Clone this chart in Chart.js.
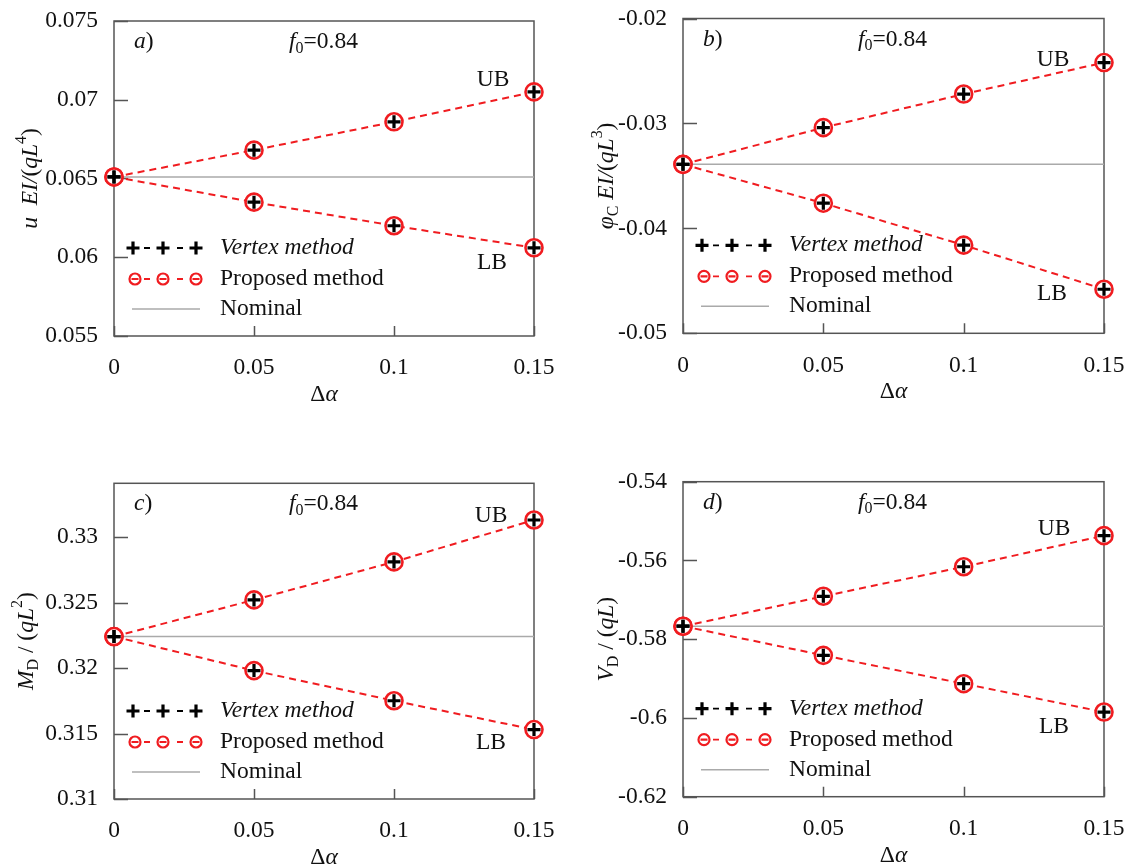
<!DOCTYPE html>
<html>
<head>
<meta charset="utf-8">
<script src="https://cdn.jsdelivr.net/npm/chart.js@4"></script>
<style>
  body { margin: 0; background: #fff; }
  #wrap { position: relative; width: 1127px; height: 867px; }
  canvas { position: absolute; }
</style>
</head>
<body>
<div id="wrap">
  <canvas id="pa" width="563" height="430" style="left:0;top:0"></canvas>
  <canvas id="pb" width="564" height="430" style="left:563px;top:0"></canvas>
  <canvas id="pc" width="563" height="437" style="left:0;top:430px"></canvas>
  <canvas id="pd" width="564" height="437" style="left:563px;top:430px"></canvas>
</div>
<script>
// x values (Δα) shared by all panels
const alphaVals = [0, 0.05, 0.1, 0.15];
const alphaTickLabels = ['0', '0.05', '0.1', '0.15'];

// a) displacement u EI/(qL^4)
const uUpper = [0.0651, 0.0668, 0.0686, 0.0705];
const uLower = [0.0651, 0.0635, 0.0620, 0.0606];
const uNominal = 0.0651;
const uTicks = [0.055, 0.06, 0.065, 0.07, 0.075];
const uTickLabels = ['0.055', '0.06', '0.065', '0.07', '0.075'];

// b) rotation phi_C EI/(qL^3)
const phiUpper = [-0.0339, -0.0304, -0.0272, -0.0242];
const phiLower = [-0.0339, -0.0376, -0.0416, -0.0458];
const phiNominal = -0.0339;
const phiTicks = [-0.05, -0.04, -0.03, -0.02];
const phiTickLabels = ['-0.05', '-0.04', '-0.03', '-0.02'];

// c) moment M_D/(qL^2)
const mUpper = [0.3224, 0.3252, 0.3281, 0.3313];
const mLower = [0.3224, 0.3198, 0.3175, 0.3153];
const mNominal = 0.3224;
const mTicks = [0.31, 0.315, 0.32, 0.325, 0.33];
const mTickLabels = ['0.31', '0.315', '0.32', '0.325', '0.33'];

// d) shear V_D/(qL)
const vUpper = [-0.5767, -0.5691, -0.5616, -0.5537];
const vLower = [-0.5767, -0.5841, -0.5913, -0.5985];
const vNominal = -0.5767;
const vTicks = [-0.62, -0.6, -0.58, -0.56, -0.54];
const vTickLabels = ['-0.62', '-0.6', '-0.58', '-0.56', '-0.54'];

const FONT = "'Liberation Serif', 'Times New Roman', serif";
const RED = 'rgb(240,28,32)';
const FS = 23.5;

// draw text made of styled pieces (italic / subscript / superscript)
function richWidth(ctx, segs, size) {
  let w = 0;
  segs.forEach(s => {
    const fs = (s.sub || s.sup) ? size * 0.68 : size;
    ctx.font = (s.i ? 'italic ' : '') + fs + 'px ' + FONT;
    w += ctx.measureText(s.t).width;
  });
  return w;
}
function drawRich(ctx, segs, x, y, size, align) {
  let cx = x;
  const w = richWidth(ctx, segs, size);
  if (align === 'center') cx = x - w / 2;
  if (align === 'right') cx = x - w;
  ctx.textBaseline = 'middle';
  ctx.textAlign = 'left';
  segs.forEach(s => {
    const fs = (s.sub || s.sup) ? size * 0.68 : size;
    ctx.font = (s.i ? 'italic ' : '') + fs + 'px ' + FONT;
    let dy = 0;
    if (s.sub) dy = size * 0.28;
    if (s.sup) dy = -size * 0.38;
    ctx.fillText(s.t, cx, y + dy);
    cx += ctx.measureText(s.t).width;
  });
}

const panelDecor = {
  id: 'panelDecor',
  beforeDatasetsDraw(chart, args, opts) {
    const ctx = chart.ctx;
    const a = chart.chartArea;
    const xs = chart.scales.x, ys = chart.scales.y;
    ctx.save();
    ctx.strokeStyle = '#555';
    ctx.lineWidth = 1.5;
    ctx.strokeRect(a.left, a.top, a.right - a.left, a.bottom - a.top);
    ctx.beginPath();
    ys.ticks.forEach(t => {
      const py = Math.round(ys.getPixelForValue(t.value)) + 0.5;
      ctx.moveTo(a.left, py); ctx.lineTo(a.left + 14, py);
    });
    xs.ticks.forEach(t => {
      const px = Math.round(xs.getPixelForValue(t.value)) + 0.5;
      ctx.moveTo(px, a.bottom); ctx.lineTo(px, a.bottom - 10);
    });
    ctx.stroke();
    ctx.restore();
  },
  afterDraw(chart, args, opts) {
    const ctx = chart.ctx;
    const a = chart.chartArea;
    ctx.save();
    ctx.fillStyle = '#111';
    // panel tag and f0
    drawRich(ctx, [{t: opts.tag, i: true}, {t: ')'}], a.left + 20, a.top + 21, FS, 'left');
    drawRich(ctx, [{t: 'f', i: true}, {t: '0', sub: true}, {t: '=0.84'}], a.left + 175, a.top + 21, FS, 'left');
    // UB / LB
    drawRich(ctx, [{t: 'UB'}], a.right - opts.ub[0], a.top + opts.ub[1], FS, 'center');
    drawRich(ctx, [{t: 'LB'}], a.right - opts.lb[0], a.top + opts.lb[1], FS, 'center');
    // x title
    drawRich(ctx, [{t: 'Δ'}, {t: 'α', i: true}], (a.left + a.right) / 2, a.bottom + 59, FS, 'center');
    // y title
    ctx.save();
    ctx.translate(opts.ytx, (a.top + a.bottom) / 2);
    ctx.rotate(-Math.PI / 2);
    drawRich(ctx, opts.ytitle, 0, 0, FS, 'center');
    ctx.restore();

    // legend inside the plot
    const lx = a.left + 19;
    const r1 = a.bottom - 88, r2 = a.bottom - 57, r3 = a.bottom - 27;
    ctx.lineWidth = 1.8;
    // vertex row
    ctx.strokeStyle = '#000';
    ctx.beginPath();
    ctx.moveTo(lx + 11, r1); ctx.lineTo(lx + 17, r1);
    ctx.moveTo(lx + 44, r1); ctx.lineTo(lx + 50, r1);
    ctx.stroke();
    ctx.lineWidth = 3.2;
    [lx, lx + 30, lx + 63].forEach(px => {
      ctx.beginPath();
      ctx.moveTo(px - 6.5, r1); ctx.lineTo(px + 6.5, r1);
      ctx.moveTo(px, r1 - 6.5); ctx.lineTo(px, r1 + 6.5);
      ctx.stroke();
    });
    // proposed row
    ctx.strokeStyle = RED;
    ctx.lineWidth = 1.8;
    ctx.beginPath();
    ctx.moveTo(lx + 11, r2); ctx.lineTo(lx + 17, r2);
    ctx.moveTo(lx + 44, r2); ctx.lineTo(lx + 50, r2);
    ctx.stroke();
    ctx.lineWidth = 2.2;
    [lx + 2, lx + 30, lx + 63].forEach(px => {
      ctx.beginPath();
      ctx.arc(px, r2, 5.5, 0, Math.PI * 2);
      ctx.moveTo(px - 3.5, r2); ctx.lineTo(px + 3.5, r2);
      ctx.stroke();
    });
    // nominal row
    ctx.strokeStyle = '#aaa';
    ctx.lineWidth = 1.5;
    ctx.beginPath();
    ctx.moveTo(lx - 1, r3); ctx.lineTo(lx + 67, r3);
    ctx.stroke();
    ctx.fillStyle = '#111';
    drawRich(ctx, [{t: 'Vertex method', i: true}], a.left + 106, r1, FS, 'left');
    drawRich(ctx, [{t: 'Proposed method'}], a.left + 106, r2, FS, 'left');
    drawRich(ctx, [{t: 'Nominal'}], a.left + 106, r3, FS, 'left');
    ctx.restore();
  }
};

function makePanel(id, w, h, area, upper, lower, nominal, yMin, yMax, yTicks, yLabels, deco) {
  const pts = vals => alphaVals.map((x, i) => ({x: x, y: vals[i]}));
  const nom = [{x: alphaVals[0], y: nominal}, {x: alphaVals[alphaVals.length - 1], y: nominal}];
  const vertexStyle = {
    showLine: false, pointStyle: 'cross', pointRadius: 6.5, pointBorderWidth: 3.2,
    pointBorderColor: '#000', clip: false
  };
  const proposedStyle = {
    borderColor: RED, borderWidth: 2, borderDash: [7, 5], pointStyle: 'circle',
    pointRadius: 8.5, pointBorderWidth: 2.6, pointBorderColor: RED,
    pointBackgroundColor: '#fff', clip: false, fill: false
  };
  return new Chart(document.getElementById(id).getContext('2d'), {
    type: 'scatter',
    data: {
      datasets: [
        Object.assign({label: 'Vertex UB', data: pts(upper)}, vertexStyle),
        Object.assign({label: 'Vertex LB', data: pts(lower)}, vertexStyle),
        Object.assign({label: 'Proposed UB', data: pts(upper), showLine: true}, proposedStyle),
        Object.assign({label: 'Proposed LB', data: pts(lower), showLine: true}, proposedStyle),
        {label: 'Nominal', data: nom, showLine: true, borderColor: '#aaa', borderWidth: 1.5,
         pointRadius: 0, fill: false}
      ]
    },
    options: {
      responsive: false,
      animation: false,
      layout: {padding: {left: 0, top: area.t, right: w - area.r, bottom: 0}},
      plugins: {
        legend: {display: false},
        tooltip: {enabled: false},
        panelDecor: deco
      },
      scales: {
        x: {
          type: 'linear', min: alphaVals[0], max: alphaVals[alphaVals.length - 1],
          afterBuildTicks: s => { s.ticks = alphaVals.map(v => ({value: v})); },
          afterFit: s => { s.height = h - area.b; s.paddingLeft = 0; s.paddingRight = 0; },
          grid: {display: false, drawTicks: false},
          border: {display: false},
          ticks: {
            padding: 18, color: '#111', font: {family: FONT, size: FS},
            maxRotation: 0, autoSkip: false,
            callback: (v, i) => alphaTickLabels[i]
          }
        },
        y: {
          type: 'linear', min: yMin, max: yMax,
          afterBuildTicks: s => { s.ticks = yTicks.map(v => ({value: v})); },
          afterFit: s => { s.width = area.l; s.paddingTop = 0; s.paddingBottom = 0; },
          grid: {display: false, drawTicks: false},
          border: {display: false},
          ticks: {
            padding: 16, color: '#111', font: {family: FONT, size: FS},
            autoSkip: false,
            callback: (v, i) => yLabels[i]
          }
        }
      }
    },
    plugins: [panelDecor]
  });
}

makePanel('pa', 563, 430, {l: 114, t: 21, r: 534, b: 336},
  uUpper, uLower, uNominal, 0.055, 0.075, uTicks, uTickLabels,
  {tag: 'a', ub: [41, 59], lb: [42, 242], ytx: 31,
   ytitle: [{t: 'u', i: true}, {t: '  '}, {t: 'EI/', i: true}, {t: '('}, {t: 'qL', i: true}, {t: '4', sup: true}, {t: ')'}]});

makePanel('pb', 564, 430, {l: 120, t: 18.5, r: 541, b: 333.3},
  phiUpper, phiLower, phiNominal, -0.05, -0.02, phiTicks, phiTickLabels,
  {tag: 'b', ub: [51, 41], lb: [52, 275], ytx: 44,
   ytitle: [{t: 'φ', i: true}, {t: 'C', sub: true}, {t: ' '}, {t: 'EI/', i: true}, {t: '('}, {t: 'qL', i: true}, {t: '3', sup: true}, {t: ')'}]});

makePanel('pc', 563, 437, {l: 114, t: 53.3, r: 534, b: 369},
  mUpper, mLower, mNominal, 0.31, 0.3341, mTicks, mTickLabels,
  {tag: 'c', ub: [43, 33], lb: [43, 260], ytx: 27,
   ytitle: [{t: 'M', i: true}, {t: 'D', sub: true}, {t: ' / ('}, {t: 'qL', i: true}, {t: '2', sup: true}, {t: ')'}]});

makePanel('pd', 564, 437, {l: 120, t: 51.7, r: 541, b: 366.7},
  vUpper, vLower, vNominal, -0.62, -0.54, vTicks, vTickLabels,
  {tag: 'd', ub: [50, 47], lb: [50, 245], ytx: 44,
   ytitle: [{t: 'V', i: true}, {t: 'D', sub: true}, {t: ' / ('}, {t: 'qL', i: true}, {t: ')'}]});
</script>
</body>
</html>
